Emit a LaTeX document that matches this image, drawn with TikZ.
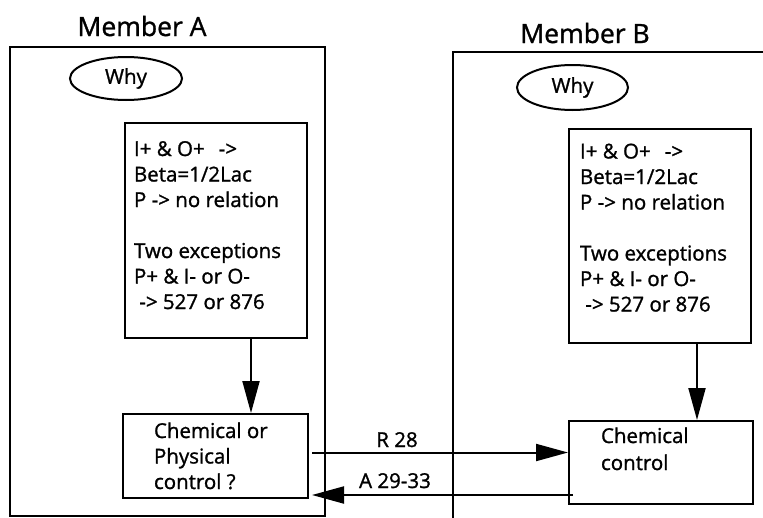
\documentclass[tikz,border=0pt]{standalone}
\usepackage{fontspec}
\setmainfont{Open Sans}[UprightFeatures={FakeBold=1.2}]
\usetikzlibrary{arrows.meta,shapes.geometric}
\newcommand\boxfont{\fontsize{20.5}{25.5}\selectfont}
\newcommand\titlefont{\fontsize{26.5}{30}\selectfont}
\newcommand\stacklines[1]{\begin{tabular}[t]{@{}l@{}}#1\end{tabular}}

\begin{document}
\begin{tikzpicture}[x=1pt,y=-1pt, line width=2pt,
  box/.style={draw, rectangle, inner sep=0pt, anchor=north west},
  txt/.style={anchor=base west, inner sep=0pt, font=\boxfont},
  title/.style={anchor=base, inner sep=0pt, font=\titlefont},
  why/.style={draw, ellipse, inner sep=0pt, font=\fontsize{20.5}{24}\selectfont},
  lbl/.style={anchor=base, inner sep=0pt, font=\boxfont},
  arr/.style={-{Triangle[length=32pt,width=17pt]}},
]
\path[use as bounding box, clip] (0,0) rectangle (763,517);

% member frames
\draw (10,47) rectangle (325,516);
\draw (453,530) -- (453,52) -- (780,52);

\node[title] (ttlA) at (142,36) {Member A};
\node[title] (ttlB) at (585,43) {Member B};

\node[why, minimum width=112pt, minimum height=43pt] (whyA) at (126,78.5) {Why};
\node[why, minimum width=111pt, minimum height=45pt] (whyB) at (572.5,87.5) {Why};

% rule boxes
\node[box, minimum width=182pt, minimum height=215pt] (tA) at (124,122) {};
\node[box, minimum width=182pt, minimum height=214pt] (tB) at (568,128) {};
\node[txt] (tAtxt) at (133,156) {\stacklines{I+ \& O+\hspace{14pt}->\\ Beta=1/2Lac\\ P -> no relation\\ \\ Two exceptions\\ P+ \& I- or O-\\ \ -> 527 or 876}};
\node[txt] (tBtxt) at (579,158.5) {\stacklines{I+ \& O+\hspace{14pt}->\\ Beta=1/2Lac\\ P -> no relation\\ \\ Two exceptions\\ P+ \& I- or O-\\ \ -> 527 or 876}};

% control boxes
\node[box, minimum width=185pt, minimum height=84pt] (cA) at (122,413) {};
\node[box, minimum width=184pt, minimum height=83pt] (cB) at (568,420) {};
\node[txt] (cAtxt) at (153,438) {\stacklines{Chemical or\\ Physical\\ control ?}};
\node[txt, font=\fontsize{20.5}{27}\selectfont] (cBtxt) at (600,443) {\stacklines{Chemical\\ control}};

% connectors
\coordinate (xA) at (251,0);
\coordinate (xB) at (697,0);
\draw[arr] (tA.south -| xA) -- (cA.north -| xA);
\draw[arr] (tB.south -| xB) -- (cB.north -| xB);

\coordinate (r0) at (312,452.5);
\coordinate (a0) at (573,495);
\draw[arr] (r0) -- (r0 -| cB.west);
\draw[arr] (a0) -- (a0 -| r0);

\node[lbl] (lR) at (397,447) {R 28};
\node[lbl] (lA) at (395,488) {A 29-33};
\end{tikzpicture}
\end{document}
